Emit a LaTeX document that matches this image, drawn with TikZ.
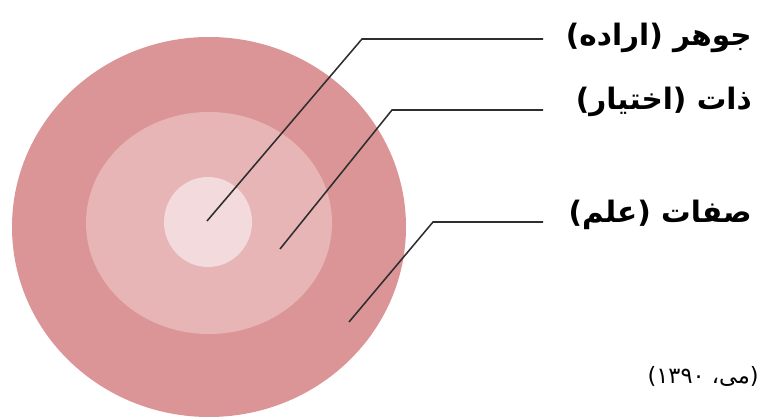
\documentclass[tikz,border=0pt]{standalone}
\usepackage{fontspec}
\newfontfamily\arabicfont[Script=Arabic]{DejaVu Sans}
\TeXXeTstate=1
\definecolor{cOuter}{HTML}{DB9597}
\definecolor{cMid}{HTML}{E8B5B7}
\definecolor{cCore}{HTML}{F3DADC}
\definecolor{cLine}{HTML}{2E2E2E}

\begin{document}
\begin{tikzpicture}[
    x=0.025cm, y=-0.025cm,
    lead/.style={line width=1.1pt, cLine},
    lbl/.style={font=\arabicfont\bfseries\fontsize{21}{24}\selectfont,
                anchor=east, inner sep=0pt},
    cite/.style={font=\arabicfont\fontsize{16}{18}\selectfont,
                 anchor=east, inner sep=0pt},
]
\useasboundingbox (0,0) rectangle (757,418);

% ===================== Rings =====================
\fill[cOuter] (209,227) ellipse [x radius=197, y radius=190];
\fill[cMid]   (209,223) ellipse [x radius=123, y radius=111];
\fill[cCore]  (208,222) ellipse [x radius=44, y radius=45];

% ===================== Labels =====================
\node[lbl] (tJawhar) at (752,38)  {\beginR جوهر (اراده)\endR};
\node[lbl] (tZat)    at (752,102) {\beginR ذات (اختیار)\endR};
\node[lbl] (tSefat)  at (752,215) {\beginR صفات (علم)\endR};

\node[cite] (tCite) at (759,376) {\beginR (می، \beginL ۱۳۹۰\endL{})\endR};

% ===================== Leader lines =====================
\coordinate (pJawhar) at (207,221);
\coordinate (kJawhar) at (362,39);
\coordinate (eJawhar) at (543,39);
\draw[lead] (pJawhar) -- (kJawhar) -- (eJawhar);

\coordinate (pZat) at (280,249);
\coordinate (kZat) at (392,110);
\coordinate (eZat) at (543,110);
\draw[lead] (pZat) -- (kZat) -- (eZat);

\coordinate (pSefat) at (349,322);
\coordinate (kSefat) at (433,222);
\coordinate (eSefat) at (543,222);
\draw[lead] (pSefat) -- (kSefat) -- (eSefat);

\end{tikzpicture}
\end{document}
